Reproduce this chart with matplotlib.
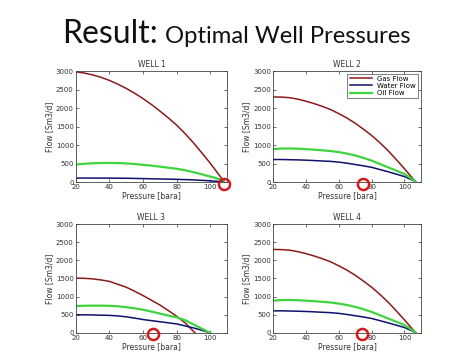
import matplotlib
matplotlib.use("Agg")
import matplotlib.pyplot as plt

# Data (pressure in bara, flow in Sm3/d)
p1 = [20, 25, 30, 35, 40, 45, 50, 55, 60, 65, 70, 75, 80, 85, 90, 95, 100, 105, 108]
gas1 = [2980, 2945, 2895, 2830, 2745, 2645, 2530, 2400, 2255, 2095, 1920, 1735,
        1540, 1310, 1060, 790, 510, 210, 30]
water1 = [110, 110, 109, 109, 108, 106, 104, 100, 95, 90, 85, 80, 75, 68, 60, 48, 35, 18, 5]
oil1 = [475, 495, 508, 516, 518, 515, 505, 488, 467, 445, 418, 390, 360, 320, 270,
        210, 150, 85, 40]

p2 = [20, 25, 30, 35, 40, 45, 50, 55, 60, 65, 70, 75, 80, 85, 90, 95, 100, 105, 107]
gas2 = [2300, 2295, 2280, 2240, 2185, 2120, 2045, 1960, 1850, 1730, 1590, 1430,
        1260, 1065, 850, 610, 360, 100, 0]
water2 = [610, 610, 605, 600, 592, 582, 570, 560, 540, 510, 475, 440, 400, 340, 280,
          215, 150, 50, 0]
oil2 = [890, 905, 908, 902, 890, 875, 858, 840, 810, 770, 720, 655, 580, 490, 400,
        310, 220, 70, 0]

p3g = [20, 25, 30, 35, 40, 45, 50, 55, 60, 65, 70, 75, 80, 85, 88, 91]
gas3 = [1510, 1505, 1490, 1460, 1420, 1340, 1260, 1150, 1030, 900, 770, 620, 460,
        280, 140, 0]
p3 = [20, 25, 30, 35, 40, 45, 50, 55, 60, 65, 70, 75, 80, 85, 90, 95, 100]
water3 = [503, 500, 497, 490, 485, 470, 445, 410, 370, 340, 310, 280, 250, 195, 140, 75, 0]
oil3 = [740, 750, 752, 752, 748, 735, 710, 680, 640, 590, 535, 480, 430, 355, 235, 120, 0]

p4 = [20, 25, 30, 35, 40, 45, 50, 55, 60, 65, 70, 75, 80, 85, 90, 95, 100, 105, 107]
gas4 = [2300, 2295, 2280, 2240, 2185, 2120, 2045, 1960, 1850, 1730, 1590, 1430,
        1260, 1065, 850, 610, 360, 100, 0]
water4 = [610, 610, 605, 600, 592, 582, 570, 560, 540, 510, 475, 440, 400, 340, 280,
          215, 150, 50, 0]
oil4 = [890, 905, 908, 902, 890, 875, 858, 840, 810, 770, 720, 655, 580, 490, 400,
        310, 220, 70, 0]

# Optimal pressure markers (red circles)
opt_p = [108, 75, 66, 74]

well_titles = ["WELL 1", "WELL 2", "WELL 3", "WELL 4"]
x_ticks = [20, 40, 60, 80, 100]
y_ticks = [0, 500, 1000, 1500, 2000, 2500, 3000]

gas_color = "#8b1a1a"
water_color = "#10106e"
oil_color = "#3fd43f"

W, H = 474, 355
fig = plt.figure(figsize=(W / 100, H / 100), dpi=100)
fig.patch.set_facecolor("white")

tfam = ["Lato", "DejaVu Sans"]
t1 = fig.text(62 / W, 1 - 43 / H, "Result:", fontsize=23, family=tfam,
              ha="left", va="baseline", color="#111111")
fig.canvas.draw()
bb = t1.get_window_extent(renderer=fig.canvas.get_renderer())
fig.text((bb.x1 + 7) / W, 1 - 43 / H, "Optimal Well Pressures", fontsize=17.2,
         family=tfam, ha="left", va="baseline", color="#111111")

rects = [
    [0.160, 0.487, 0.319, 0.313],
    [0.576, 0.487, 0.312, 0.313],
    [0.160, 0.062, 0.319, 0.307],
    [0.576, 0.062, 0.312, 0.307],
]

data = [
    (p1, gas1, p1, water1, oil1),
    (p2, gas2, p2, water2, oil2),
    (p3g, gas3, p3, water3, oil3),
    (p4, gas4, p4, water4, oil4),
]

for i, (rect, (pg, g, pw, w, o)) in enumerate(zip(rects, data)):
    ax = fig.add_axes(rect)
    lg, = ax.plot(pg, g, color=gas_color, lw=1.1, label="Gas Flow")
    lw_, = ax.plot(pw, w, color=water_color, lw=1.1, label="Water Flow")
    lo, = ax.plot(pw, o, color=oil_color, lw=1.6, label="Oil Flow")
    ax.set_xlim(20, 110)
    ax.set_ylim(0, 3000)
    ax.set_xticks(x_ticks)
    ax.set_yticks(y_ticks)
    ax.tick_params(labelsize=5, length=2, width=0.5, direction="in", pad=1.5,
                   top=True, right=True, colors="#333333")
    for s in ax.spines.values():
        s.set_linewidth(0.6)
        s.set_color("#444444")
    ax.set_title(well_titles[i], fontsize=5.5, pad=3, color="#333333")
    ax.set_xlabel("Pressure [bara]", fontsize=5.5, labelpad=1, color="#333333")
    ax.set_ylabel("Flow [Sm3/d]", fontsize=5.5, labelpad=1, color="#333333")
    ax.plot([opt_p[i]], [-40], marker="o", markersize=8, markerfacecolor="none",
            markeredgecolor="#d01c1c", markeredgewidth=1.8, clip_on=False, zorder=5)
    if i == 1:
        leg = ax.legend(handles=[lg, lw_, lo], loc="upper right", fontsize=5,
                        frameon=True, fancybox=False, edgecolor="#444444",
                        borderpad=0.3, handlelength=3.2, labelspacing=0.15,
                        borderaxespad=0.4)
        leg.get_frame().set_linewidth(0.6)

fig.savefig("out.png", dpi=100, facecolor="white")
